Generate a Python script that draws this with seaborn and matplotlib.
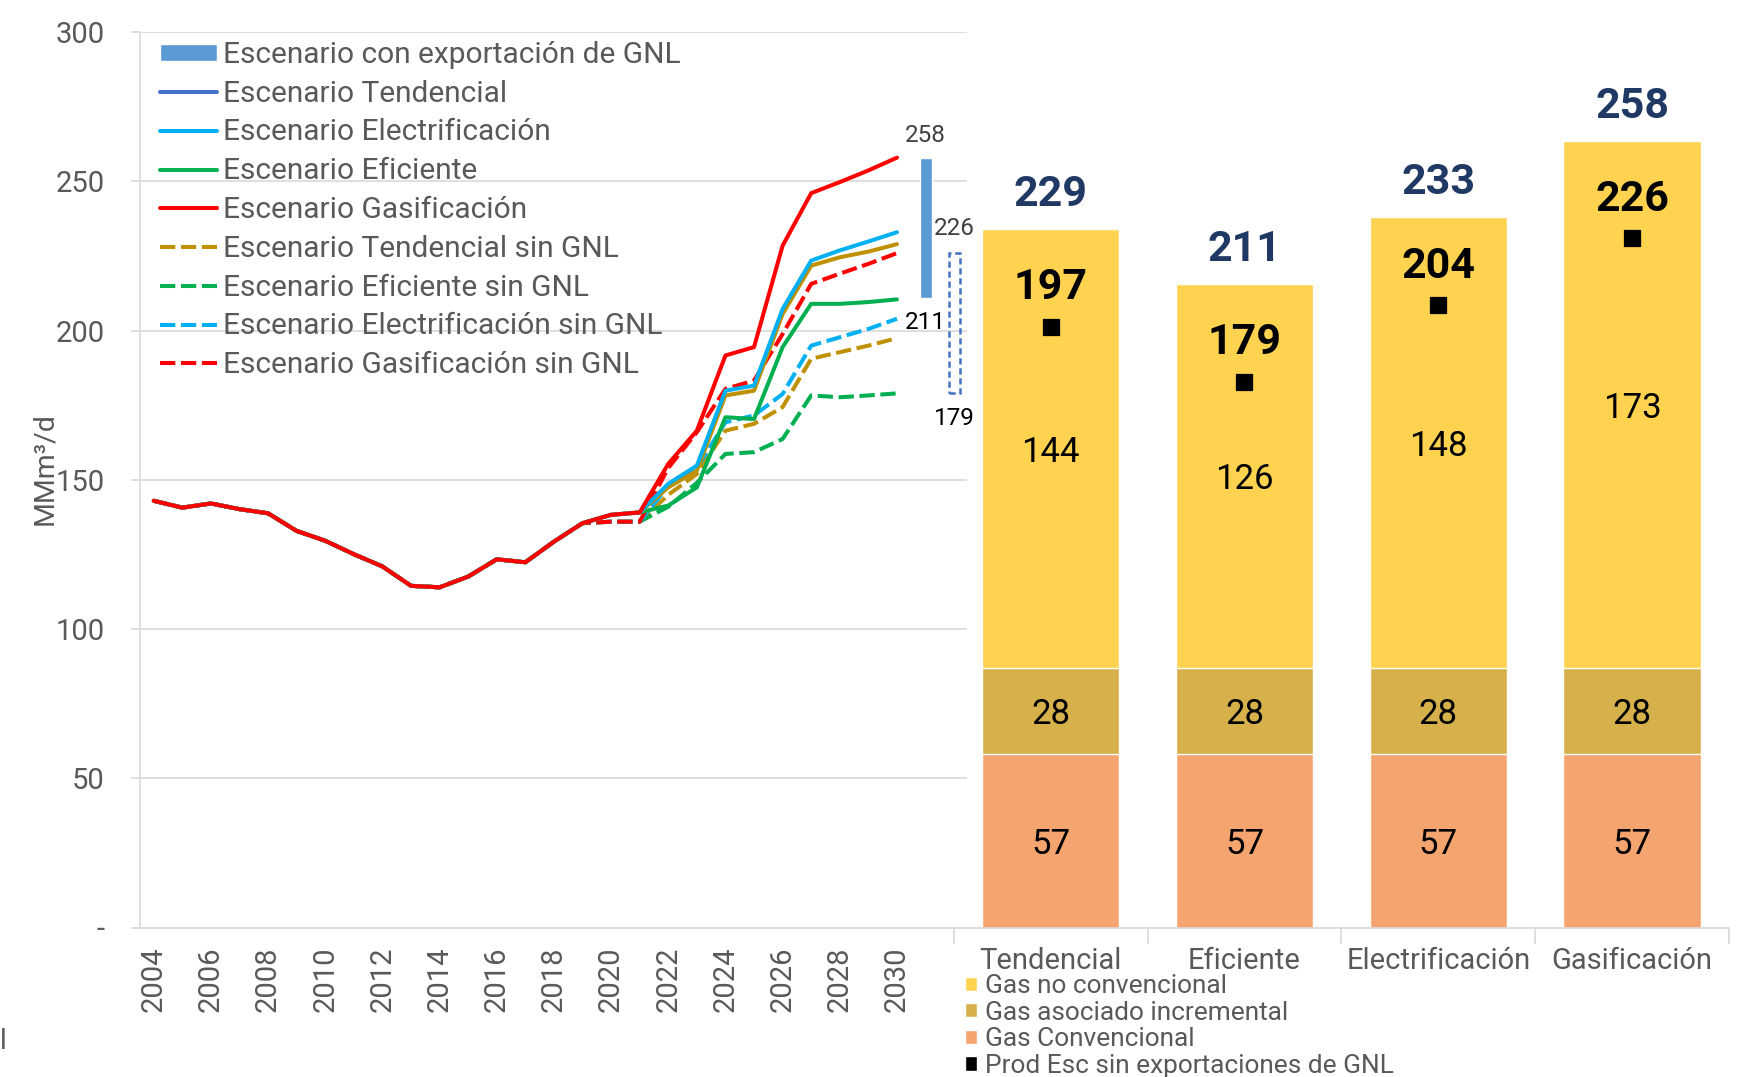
import matplotlib
matplotlib.use("Agg")
import matplotlib.pyplot as plt
from matplotlib.patches import Patch
from matplotlib.lines import Line2D
import seaborn as sns

# --- datos (MMm3/d) ---
anios = list(range(2004, 2031))
# historico 2004-2021
historico = [143.0, 140.7, 142.1, 140.2, 138.8, 132.9, 129.6, 125.1, 121.0,
             114.5, 114.0, 117.6, 123.4, 122.4, 129.3, 135.5, 138.3, 139.1]
# proyecciones 2022-2030
tendencial = [147.5, 153.1, 178.3, 179.9, 205.6, 221.8, 224.6, 226.5, 229.0]
electrificacion = [148.7, 154.8, 179.9, 181.6, 207.3, 223.5, 226.9, 229.9, 233.0]
eficiente = [141.4, 147.5, 171.0, 170.4, 194.5, 209.0, 209.0, 209.6, 210.5]
gasificacion = [155.4, 166.5, 191.7, 194.5, 228.5, 246.1, 249.8, 253.7, 258.0]
# sin GNL: 2020-2021 y luego 2022-2030
sin_gnl_2020_2021 = [136.0, 136.0]
tendencial_sin = [145.0, 152.0, 166.5, 168.8, 174.4, 190.6, 192.8, 195.0, 197.5]
eficiente_sin = [141.0, 149.0, 158.7, 159.3, 163.7, 178.3, 177.7, 178.3, 179.0]
electrificacion_sin = [148.0, 154.0, 169.3, 171.6, 178.8, 195.0, 197.8, 200.6, 204.0]
gasificacion_sin = [154.0, 166.0, 180.5, 183.3, 198.9, 215.7, 219.1, 222.4, 226.0]

rango_exportacion = [211, 258]
rango_sin_exportacion = [179, 226]

escenarios = ["Tendencial", "Eficiente", "Electrificación", "Gasificación"]
gas_convencional = [57, 57, 57, 57]
gas_asociado = [28, 28, 28, 28]
gas_no_conv = [144, 126, 148, 173]
prod_sin_gnl = [197, 179, 204, 226]

# colores
GRIS = "#595959"
C_TEND, C_TEND_LEG = "#BF9000", "#4472C4"
C_ELEC, C_EFIC, C_GAS = "#00B0F0", "#00B050", "#FF0000"
C_AMAR, C_ASOC, C_CONV = "#FFD34F", "#D5B04B", "#F4A46E"
NAVY = "#1F3864"
DASH = (0, (3.8, 1.4))

sns.set_theme(style="white")
plt.rcParams["font.family"] = ["Roboto", "DejaVu Sans"]

fig = plt.figure(figsize=(17.47, 10.77), dpi=100)
bottom = 1 - 927.5 / 1077
height = (927.5 - 32.3) / 1077
ax = fig.add_axes([140 / 1747, bottom, (967 - 140) / 1747, height])
ax2 = fig.add_axes([953.8 / 1747, bottom, (1729 - 953.8) / 1747, height])

# --- grafico de lineas ---
hist_sin = historico[:16] + sin_gnl_2020_2021
series = [
    (hist_sin + tendencial_sin, C_TEND, DASH),
    (hist_sin + eficiente_sin, C_EFIC, DASH),
    (hist_sin + electrificacion_sin, C_ELEC, DASH),
    (hist_sin + gasificacion_sin, C_GAS, DASH),
    (historico + eficiente, C_EFIC, "-"),
    (historico + tendencial, C_TEND, "-"),
    (historico + electrificacion, C_ELEC, "-"),
    (historico + gasificacion, C_GAS, "-"),
]
for vals, col, ls in series:
    sns.lineplot(x=anios, y=vals, color=col, linewidth=2.9, linestyle=ls, ax=ax)

x_exp = anios[-1] + 1
x_sin = anios[-1] + 2
ax.bar(x_exp, rango_exportacion[1] - rango_exportacion[0], bottom=rango_exportacion[0],
       width=0.42, color="#5B9BD5", zorder=3)
ax.bar(x_sin, rango_sin_exportacion[1] - rango_sin_exportacion[0],
       bottom=rango_sin_exportacion[0], width=0.38, fill=False,
       edgecolor="#4472C4", linewidth=1.8, linestyle=(0, (2.5, 1.5)), zorder=3)
ax.text(x_exp, rango_exportacion[1] + 7.3, f"{rango_exportacion[1]}", ha="center",
        va="center", fontsize=17.5, color="#404040")
ax.text(x_sin, rango_sin_exportacion[1] + 8.4, f"{rango_sin_exportacion[1]}", ha="center",
        va="center", fontsize=17.5, color="#404040")
ax.text(x_exp, rango_exportacion[0] - 8.3, f"{rango_exportacion[0]}", ha="center",
        va="center", fontsize=17.5, color="black")
ax.text(x_sin, rango_sin_exportacion[0] - 8.4, f"{rango_sin_exportacion[0]}", ha="center",
        va="center", fontsize=17.5, color="black")

ax.set_xlim(2003.52, 2032.45)
ax.set_ylim(0, 300)
ax.set_yticks(range(0, 301, 50))
ax.set_yticklabels(["-"] + [str(v) for v in range(50, 301, 50)])
ax.set_xticks(range(2004, 2031, 2))
ax.set_xticklabels([str(a) for a in range(2004, 2031, 2)], rotation=90)
ax.yaxis.grid(True, color="#D9D9D9", linewidth=1.2)
ax.set_axisbelow(True)
for s in ["top", "right"]:
    ax.spines[s].set_visible(False)
for s in ["left", "bottom"]:
    ax.spines[s].set_color("#D9D9D9")
    ax.spines[s].set_linewidth(1.2)
ax.tick_params(axis="y", length=6.5, width=1.2, color="#D9D9D9", pad=19,
               labelsize=21, labelcolor=GRIS, left=True)
ax.tick_params(axis="x", length=0, pad=14, labelsize=21, labelcolor=GRIS)
ax.set_ylabel("MMm³/d", fontsize=20.5, color=GRIS)
ax.yaxis.set_label_coords(-0.099, 0.513)

handles = [
    Patch(facecolor="#5B9BD5"),
    Line2D([], [], color=C_TEND_LEG, linewidth=2.9),
    Line2D([], [], color=C_ELEC, linewidth=2.9),
    Line2D([], [], color=C_EFIC, linewidth=2.9),
    Line2D([], [], color=C_GAS, linewidth=2.9),
    Line2D([], [], color=C_TEND, linewidth=2.9, linestyle=DASH),
    Line2D([], [], color=C_EFIC, linewidth=2.9, linestyle=DASH),
    Line2D([], [], color=C_ELEC, linewidth=2.9, linestyle=DASH),
    Line2D([], [], color=C_GAS, linewidth=2.9, linestyle=DASH),
]
etiquetas = ["Escenario con exportación de GNL", "Escenario Tendencial",
             "Escenario Electrificación", "Escenario Eficiente", "Escenario Gasificación",
             "Escenario Tendencial sin GNL", "Escenario Eficiente sin GNL",
             "Escenario Electrificación sin GNL", "Escenario Gasificación sin GNL"]
leg = fig.legend(handles, etiquetas, loc="upper left", bbox_to_anchor=(160 / 1747, 1 - 41 / 1077),
                 frameon=False, fontsize=21.5, labelcolor=GRIS, handlelength=1.9,
                 handleheight=0.5, handletextpad=0.2, labelspacing=0.36,
                 borderpad=0, borderaxespad=0)

# --- barras apiladas ---
total_asoc = [a + b for a, b in zip(gas_convencional, gas_asociado)]
totales = [a + b for a, b in zip(total_asoc, gas_no_conv)]
sns.barplot(x=escenarios, y=totales, color=C_AMAR, saturation=1, width=0.71, ax=ax2)
sns.barplot(x=escenarios, y=total_asoc, color=C_ASOC, saturation=1, width=0.71, ax=ax2)
sns.barplot(x=escenarios, y=gas_convencional, color=C_CONV, saturation=1, width=0.71, ax=ax2)
sns.scatterplot(x=escenarios, y=prod_sin_gnl, marker="s", color="black", s=130,
                edgecolor="black", ax=ax2, zorder=5)

for i in range(len(escenarios)):
    ax2.text(i, gas_convencional[i] / 2 - 1.2, f"{gas_convencional[i]}", ha="center",
             va="center", fontsize=25, color="black")
    ax2.text(i, gas_convencional[i] + gas_asociado[i] / 2 - 1.2, f"{gas_asociado[i]}",
             ha="center", va="center", fontsize=25, color="black")
    ax2.text(i, total_asoc[i] + gas_no_conv[i] / 2 - 1.2, f"{gas_no_conv[i]}", ha="center",
             va="center", fontsize=25, color="black")
    ax2.text(i, totales[i] + 11.2, f"{totales[i]}", ha="center", va="center",
             fontsize=31, fontweight="bold", color=NAVY)
    ax2.text(i, prod_sin_gnl[i] + 12.8, f"{prod_sin_gnl[i]}", ha="center", va="center",
             fontsize=31, fontweight="bold", color="black")

ax2.set_xlim(-0.5, 3.5)
ax2.set_ylim(0, 293.5)
ax2.set_yticks([])
ax2.set_ylabel("")
for s in ["top", "right", "left"]:
    ax2.spines[s].set_visible(False)
ax2.spines["bottom"].set_color("#D9D9D9")
ax2.spines["bottom"].set_linewidth(1.2)
ax2.set_xticks([-0.5, 0.5, 1.5, 2.5, 3.5], minor=True)
ax2.tick_params(axis="x", which="major", length=0, pad=14, labelsize=21, labelcolor=GRIS)
ax2.tick_params(axis="x", which="minor", length=11.5, width=1.2, color="#D9D9D9",
                bottom=True, direction="out")
ax2.patch.set_alpha(0)

handles2 = [Patch(facecolor=C_AMAR), Patch(facecolor=C_ASOC), Patch(facecolor=C_CONV),
            Patch(facecolor="black")]
etiquetas2 = ["Gas no convencional", "Gas asociado incremental", "Gas Convencional",
              "Prod Esc sin exportaciones de GNL"]
fig.legend(handles2, etiquetas2, loc="upper left", bbox_to_anchor=(965 / 1747, 1 - 974 / 1077),
           frameon=False, fontsize=18.9, labelcolor=GRIS, handlelength=0.45, handleheight=0.45,
           handletextpad=0.3, labelspacing=0.10, borderpad=0, borderaxespad=0)

fig.text(0.0, 0.026, "l", fontsize=20, color=GRIS)

fig.savefig("out.png", dpi=100)
